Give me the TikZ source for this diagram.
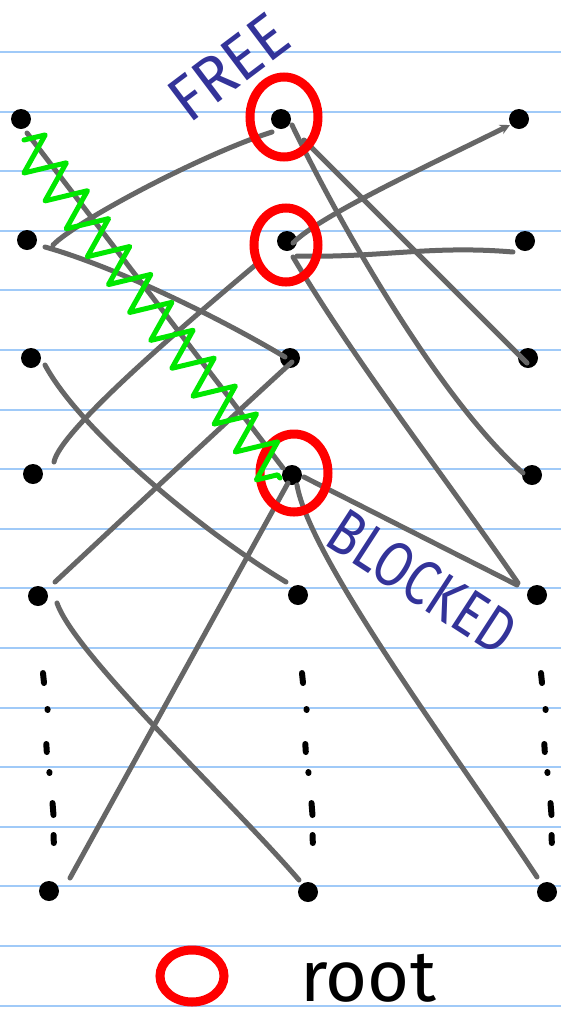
\documentclass[tikz,border=0pt]{standalone}
\usepackage{fontspec}
\usepackage{graphicx}
\setmainfont{Fira Sans}
\usetikzlibrary{decorations.pathmorphing,arrows.meta,shapes.geometric}
\definecolor{ruleblue}{RGB}{160,202,248}
\definecolor{edgegray}{RGB}{102,102,102}
\definecolor{ink}{RGB}{51,51,153}
\definecolor{zig}{RGB}{0,232,0}
\begin{document}
\begin{tikzpicture}[x=1pt,y=-1pt,
  vdot/.style={circle,fill=black,inner sep=0pt,minimum size=20pt},
  conn/.style={draw=edgegray,line width=5pt,line cap=round,line join=round},
  rootring/.style={draw=red,line width=9pt},
  ruleline/.style={draw=ruleblue,line width=2pt},
  ellipsisstroke/.style={draw=black,line width=6pt,line cap=round},
  handtext/.style={text=ink,font=\fontsize{64}{64}\selectfont,inner sep=0pt},
  wiggle/.style={draw=zig,line width=5pt,line join=round,line cap=round,
    decorate,decoration={zigzag,segment length=35pt,amplitude=20pt}}
]
\fill[white] (0,0) rectangle (561,1013);
\useasboundingbox (0,0) rectangle (561,1013);

% ruled paper
\foreach \k in {0,...,16}
  \draw[ruleline] (0,{52+59.6*\k}) -- (561,{52+59.6*\k});

% vertices
\node[vdot] (a1) at (21,119) {};
\node[vdot] (a2) at (27,240) {};
\node[vdot] (a3) at (31,358) {};
\node[vdot] (a4) at (33,474) {};
\node[vdot] (a5) at (38,596) {};
\node[vdot] (a6) at (49,891) {};
\node[vdot] (b1) at (281,119) {};
\node[vdot] (b2) at (287,241) {};
\node[vdot] (b3) at (290,358) {};
\node[vdot] (b4) at (292,475) {};
\node[vdot] (b5) at (298,595) {};
\node[vdot] (b6) at (308,892) {};
\node[vdot] (c1) at (519,119) {};
\node[vdot] (c2) at (525,241) {};
\node[vdot] (c3) at (528,358) {};
\node[vdot] (c4) at (532,475) {};
\node[vdot] (c5) at (537,595) {};
\node[vdot] (c6) at (547,892) {};

% vertical ellipses
\foreach \dx in {0,259,498} {
  \draw[ellipsisstroke] (43+\dx,673) -- (44+\dx,683);
  \draw[ellipsisstroke] (47.5+\dx,709) -- (47.6+\dx,710);
  \draw[ellipsisstroke] (46.3+\dx,744) -- (46.8+\dx,752);
  \draw[ellipsisstroke] (49.4+\dx,772) -- (49.5+\dx,773);
  \draw[ellipsisstroke] (52.5+\dx,803) -- (53.5+\dx,815);
  \draw[ellipsisstroke] (53.6+\dx,835) -- (53.8+\dx,843);
}

% connectors
\draw[conn] ([shift={(6,14)}]a1.center) -- ([shift={(-9,-7)}]b4.center);
\draw[conn] ([shift={(26,5)}]a2.center) .. controls (75,222) and (200,155) .. ([shift={(-9,13)}]b1.center);
\draw[conn] ([shift={(18,7)}]a2.center) .. controls (110,265) and (215,315) .. ([shift={(-5,-1)}]b3.center);
\draw[conn] ([shift={(14,7)}]a3.center) .. controls (80,430) and (200,530) .. ([shift={(-12,-13)}]b5.center);
\draw[conn] ([shift={(-28,21)}]b2.center) .. controls (190,320) and (60,430) .. ([shift={(21,-12)}]a4.center);
\draw[conn] ([shift={(2,4)}]b3.center) .. controls (250,400) and (100,540) .. ([shift={(17,-14)}]a5.center);
\draw[conn] ([shift={(19,7)}]a5.center) .. controls (75,655) and (230,800) .. ([shift={(-9,-12)}]b6.center);
\draw[conn] ([shift={(-4,8)}]b4.center) -- ([shift={(21,-13)}]a6.center);
\draw[conn] ([shift={(12,2)}]b4.center) -- ([shift={(-20,-10)}]c5.center);
\draw[conn] ([shift={(5,10)}]b4.center) .. controls (310,560) and (460,760) .. ([shift={(-10,-15)}]c6.center);
\draw[conn] ([shift={(6,16)}]b2.center) .. controls (358,366) and (443,474) .. ([shift={(-19,-12)}]c5.center);
\draw[conn] ([shift={(11,6)}]b1.center) .. controls (340,225) and (440,400) .. ([shift={(-9,-2)}]c4.center);
\draw[conn] ([shift={(23,21)}]b1.center) -- ([shift={(-1,5)}]c3.center);
\draw[conn,-{Stealth[length=10pt,width=10pt]}] ([shift={(6,2)}]b2.center) .. controls (320,215) and (440,160) .. ([shift={(-9,6)}]c1.center);
\draw[conn] ([shift={(10,15)}]b2.center) .. controls (380,258) and (430,245) .. ([shift={(-12,11)}]c2.center);

% root rings
\draw[rootring] ([shift={(3,-2)}]b1.center) ellipse [x radius=34pt, y radius=40pt];
\draw[rootring] ([shift={(-1,4)}]b2.center) ellipse [x radius=32pt, y radius=37pt];
\draw[rootring] ([shift={(2,-2)}]b4.center) ellipse [x radius=34pt, y radius=39pt];

% green wiggle
\draw[wiggle] ([shift={(3,21)}]a1.center) -- ([shift={(-12,3)}]b4.center);

% labels
\node[handtext,rotate=37] (free) at (229,67) {\scalebox{0.95}[1]{FREE}};
\node[handtext,rotate=-33] (blocked) at (422,582) {\scalebox{0.8}[1]{BLOCKED}};

% legend
\node[draw=red,line width=9pt,ellipse,minimum width=64pt,minimum height=52pt,inner sep=0pt] (legendring) at (192,976) {};
\node[anchor=base west,font=\fontsize{72}{72}\selectfont,inner sep=0pt] (roottext) at (300,1001) {root};
\end{tikzpicture}
\end{document}
